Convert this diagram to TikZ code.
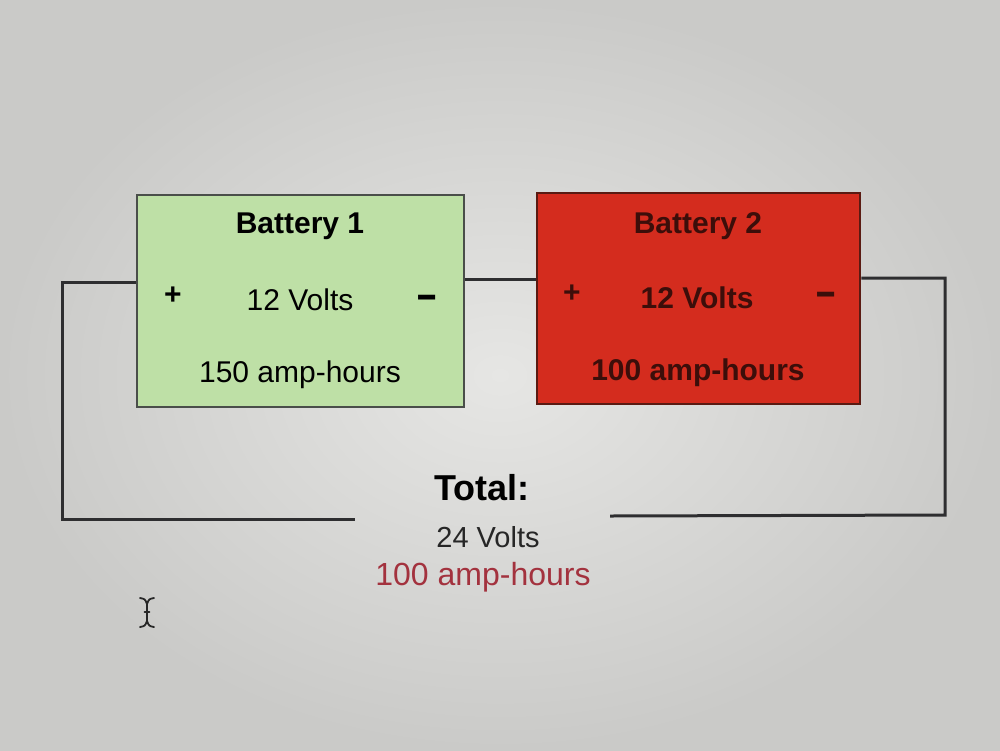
\documentclass[tikz,border=0pt]{standalone}
\usepackage{graphicx}
\usepackage{fontspec}
\setmainfont{Liberation Sans}
\definecolor{bgin}{HTML}{E6E6E4}
\definecolor{bgout}{HTML}{CACAC8}
\definecolor{greenfill}{HTML}{BEE0A6}
\definecolor{greenborder}{HTML}{4A4E4A}
\definecolor{redfill}{HTML}{D42C1E}
\definecolor{redborder}{HTML}{5A1A12}
\definecolor{redtext}{HTML}{3C0E0A}
\definecolor{totalred}{HTML}{A3323E}
\definecolor{wire}{HTML}{2E2E30}
\newcommand{\bigminus}{\scalebox{1.15}[1.6]{–}}
\begin{document}
\begin{tikzpicture}[x=1pt,y=-1pt,
  battbox/.style={draw, line width=2.5pt, minimum width=#1, inner sep=0pt},
  lbl/.style={inner sep=0pt, font=\fontsize{30}{32}\selectfont},
  lblb/.style={inner sep=0pt, font=\fontsize{30}{32}\selectfont\bfseries},
  wireline/.style={draw=wire, line width=3pt, line join=miter}]
\useasboundingbox (0,0) rectangle (1000,750);
\fill[inner color=bgin, outer color=bgout] (0,0) rectangle (1000,750);

% batteries
\node[battbox=327pt, minimum height=212pt, fill=greenfill, draw=greenborder] (b1) at (300.5,301) {};
\node[battbox=323pt, minimum height=211pt, fill=redfill, draw=redborder] (b2) at (698.5,298.5) {};

% battery 1 texts
\node[lblb] (b1title) at (300,226) {Battery 1};
\node[lblb] (b1plus) at (173,296) {+};
\node[lbl] (b1volts) at (300,300) {12 Volts};
\node[lblb, anchor=base] (b1minus) at (427,310.5) {\bigminus};
\node[lbl] (b1ah) at (300,375) {150 amp-hours};

% battery 2 texts
\begin{scope}[text=redtext]
\node[lblb] (b2title) at (698,226) {Battery 2};
\node[lblb] (b2plus) at (572,294) {+};
\node[lblb] (b2volts) at (697,298) {12 Volts};
\node[lblb, anchor=base] (b2minus) at (826,307.5) {\bigminus};
\node[lblb] (b2ah) at (698,373) {100 amp-hours};
\end{scope}

% totals
\node[inner sep=0pt, font=\fontsize{36}{38}\selectfont\bfseries] (total) at (482,488) {Total:};
\node[inner sep=0pt, font=\fontsize{29}{31}\selectfont, text=black!85] (tvolts) at (488,537) {24 Volts};
\node[inner sep=0pt, font=\fontsize{32}{34}\selectfont, text=totalred] (tah) at (483,577) {100 amp-hours};

% wire coordinates
\coordinate (lw) at (62,282);
\coordinate (lwb) at (62,519);
\coordinate (lend) at (355,519);
\coordinate (mid) at (500,279);
\coordinate (rw) at (945,278);
\coordinate (rwb) at (945,515);
\coordinate (rend) at (610,516);

\draw[wireline] (b1.west |- lw) -- (lw) -- (lwb) -- (lend);
\draw[wireline] (b1.east |- mid) -- (b2.west |- mid);
\draw[wireline] (b2.east |- rw) -- (rw) -- (rwb) -- (rend);

% text cursor
\draw[line width=1.8pt, black!85, line cap=round]
  (140,598) .. controls (145,599) .. (147,604) -- (147,621) .. controls (149,626) .. (154,627)
  (154,598) .. controls (149,599) .. (147,604)
  (147,621) .. controls (145,626) .. (140,627)
  (144.5,612) -- (149.5,612);
\end{tikzpicture}
\end{document}
